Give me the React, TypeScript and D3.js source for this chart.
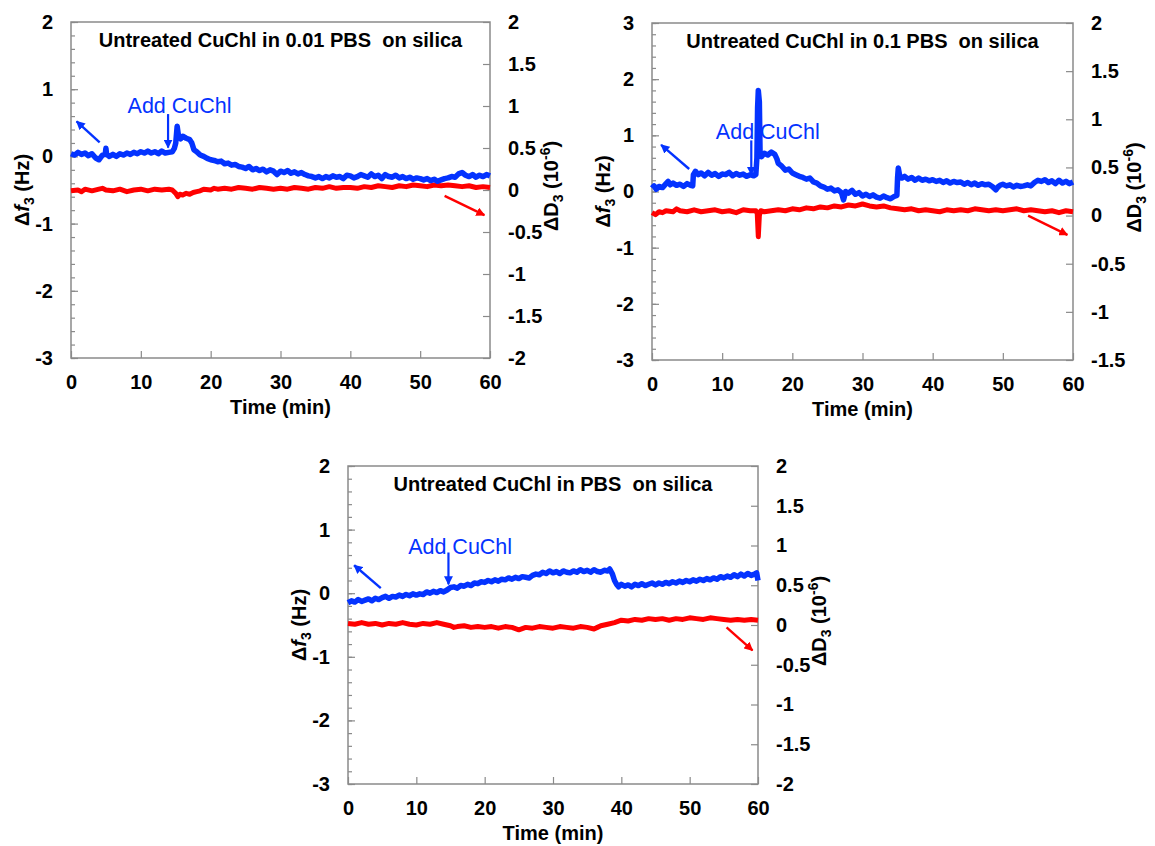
import React, { useEffect, useRef } from 'react';
import * as d3 from 'd3';

type Pt = [number, number];

// time axis (min)
const timeTicks = [0, 10, 20, 30, 40, 50, 60];

// ---- panel 1: untreated CuChl in 0.01 PBS ----
const freq001: Pt[] = [
  [0, 0.04], [0.5, 0.02], [1, 0.06], [1.5, 0.03], [2, 0.05], [2.5, 0.01], [3, 0.04], [3.5, -0.02], [4, -0.05], [4.5, 0.02],
  [4.9, 0.03], [5, 0.12], [5.1, 0.03], [5.5, 0.0], [6, 0.03], [6.5, 0.0], [7, 0.04], [7.5, 0.02], [8, 0.05], [8.5, 0.03], [9, 0.06],
  [9.5, 0.04], [10, 0.07], [10.5, 0.05], [11, 0.08], [11.5, 0.05], [12, 0.07], [12.5, 0.04], [13, 0.08], [13.5, 0.05], [14, 0.06],
  [14.5, 0.07], [14.8, 0.12], [15, 0.2], [15.2, 0.45], [15.4, 0.3], [15.7, 0.26], [16, 0.3], [16.5, 0.27], [17, 0.25], [17.3, 0.2],
  [17.6, 0.1], [18, 0.07], [18.5, 0.02], [19, 0.0], [19.5, -0.03], [20, -0.05], [20.5, -0.06], [21, -0.08], [21.5, -0.07], [22, -0.11],
  [22.5, -0.1], [23, -0.13], [23.5, -0.12], [24, -0.15], [24.5, -0.16], [25, -0.18], [25.5, -0.15], [26, -0.2], [26.5, -0.18], [27, -0.21],
  [27.5, -0.19], [28, -0.23], [28.5, -0.2], [29, -0.22], [29.5, -0.27], [30, -0.22], [30.5, -0.24], [31, -0.21], [31.5, -0.25], [32, -0.23],
  [32.5, -0.26], [33, -0.24], [33.5, -0.27], [34, -0.29], [34.5, -0.3], [35, -0.32], [35.5, -0.3], [36, -0.33], [36.5, -0.3], [37, -0.32],
  [37.5, -0.29], [38, -0.31], [38.5, -0.3], [39, -0.33], [39.5, -0.28], [40, -0.29], [40.5, -0.32], [41, -0.3], [41.5, -0.27], [42, -0.29],
  [42.5, -0.31], [43, -0.26], [43.5, -0.3], [44, -0.28], [44.5, -0.33], [45, -0.27], [45.5, -0.3], [46, -0.31], [46.5, -0.28], [47, -0.32],
  [47.5, -0.3], [48, -0.33], [48.5, -0.31], [49, -0.34], [49.5, -0.32], [50, -0.33], [50.5, -0.35], [51, -0.33], [51.5, -0.36], [52, -0.34],
  [52.5, -0.37], [53, -0.35], [53.5, -0.33], [54, -0.32], [54.5, -0.3], [55, -0.31], [55.5, -0.26], [56, -0.24], [56.5, -0.28], [57, -0.3],
  [57.5, -0.27], [58, -0.31], [58.5, -0.28], [59, -0.3], [59.5, -0.27], [60, -0.29],
];
const diss001: Pt[] = [
  [0, -0.01], [1, 0.0], [1.5, -0.02], [2, 0.01], [3, -0.01], [4, 0.01], [4.5, 0.02], [5, 0.0], [6, -0.01], [7, 0.01],
  [8, -0.02], [9, 0.0], [10, 0.01], [11, -0.01], [12, 0.01], [13, 0.0], [14, 0.01], [14.5, 0.0], [15, -0.04], [15.3, -0.08],
  [15.6, -0.05], [16, -0.06], [16.5, -0.04], [17, -0.05], [17.5, -0.03], [18, -0.02], [18.5, -0.01], [19, 0.01], [20, 0.0], [20.5, 0.02],
  [21, 0.01], [22, 0.02], [23, 0.01], [24, 0.03], [25, 0.02], [26, 0.01], [27, 0.03], [28, 0.02], [29, 0.01], [30, 0.02],
  [31, 0.01], [32, 0.03], [33, 0.02], [34, 0.01], [35, 0.03], [36, 0.02], [37, 0.04], [38, 0.02], [39, 0.03], [40, 0.03],
  [41, 0.02], [42, 0.04], [43, 0.03], [44, 0.05], [45, 0.04], [46, 0.03], [47, 0.05], [48, 0.04], [49, 0.06], [50, 0.05],
  [51, 0.04], [52, 0.06], [53, 0.05], [54, 0.06], [55, 0.05], [56, 0.04], [57, 0.05], [58, 0.03], [59, 0.04], [60, 0.03],
];

// ---- panel 2: untreated CuChl in 0.1 PBS ----
const freq01: Pt[] = [
  [0, 0.06], [0.3, 0.1], [0.6, 0.04], [1, 0.09], [1.5, 0.07], [2, 0.14], [2.3, 0.18], [2.6, 0.12], [3, 0.15], [3.5, 0.11],
  [4, 0.13], [4.5, 0.09], [5, 0.14], [5.5, 0.11], [5.8, 0.1], [5.9, 0.3], [6.2, 0.36], [6.6, 0.3], [7, 0.33], [7.5, 0.28],
  [8, 0.34], [8.5, 0.29], [9, 0.32], [9.5, 0.27], [10, 0.31], [10.5, 0.3], [11, 0.34], [11.5, 0.28], [12, 0.32], [12.5, 0.29],
  [13, 0.31], [13.5, 0.27], [14, 0.3], [14.5, 0.28], [14.8, 0.3], [14.95, 0.6], [15.05, 1.5], [15.15, 1.8], [15.3, 1.6], [15.4, 0.7],
  [15.6, 0.62], [16, 0.68], [16.5, 0.65], [17, 0.7], [17.5, 0.66], [17.8, 0.58], [18, 0.5], [18.5, 0.45], [19, 0.38], [19.5, 0.4],
  [20, 0.33], [20.5, 0.3], [21, 0.27], [21.5, 0.25], [22, 0.22], [22.5, 0.24], [23, 0.17], [23.5, 0.15], [24, 0.1], [24.5, 0.08],
  [25, 0.04], [25.5, 0.06], [26, 0.01], [26.5, 0.03], [27, -0.02], [27.3, -0.15], [27.6, 0.0], [28, -0.03], [28.5, 0.02], [29, -0.05],
  [29.5, -0.02], [30, -0.08], [30.5, -0.05], [31, -0.09], [31.5, -0.06], [32, -0.1], [32.5, -0.12], [33, -0.08], [33.5, -0.11], [34, -0.13],
  [34.5, -0.09], [34.9, -0.07], [35, 0.25], [35.1, 0.42], [35.3, 0.28], [35.6, 0.24], [36, 0.27], [36.5, 0.22], [37, 0.25], [37.5, 0.2],
  [38, 0.24], [38.5, 0.2], [39, 0.22], [39.5, 0.19], [40, 0.21], [40.5, 0.18], [41, 0.2], [41.5, 0.16], [42, 0.19], [42.5, 0.15],
  [43, 0.18], [43.5, 0.16], [44, 0.17], [44.5, 0.13], [45, 0.16], [45.5, 0.12], [46, 0.15], [46.5, 0.11], [47, 0.14], [47.5, 0.12],
  [48, 0.13], [48.5, 0.09], [49, 0.03], [49.3, 0.08], [49.6, 0.11], [50, 0.13], [50.5, 0.1], [51, 0.12], [51.5, 0.08], [52, 0.11],
  [52.5, 0.09], [53, 0.1], [53.5, 0.12], [54, 0.1], [54.5, 0.16], [55, 0.2], [55.5, 0.18], [56, 0.21], [56.5, 0.16], [57, 0.19],
  [57.5, 0.14], [58, 0.2], [58.5, 0.15], [59, 0.18], [59.5, 0.14], [60, 0.17],
];
const diss01: Pt[] = [
  [0, 0.03], [0.5, 0.01], [1, 0.04], [1.5, 0.03], [2, 0.05], [3, 0.04], [3.5, 0.07], [4, 0.05], [5, 0.04], [6, 0.06],
  [7, 0.04], [8, 0.05], [9, 0.06], [10, 0.04], [11, 0.05], [12, 0.03], [13, 0.06], [14, 0.05], [14.8, 0.05], [15.0, 0.02],
  [15.15, -0.22], [15.3, 0.0], [15.5, 0.05], [16, 0.04], [17, 0.05], [18, 0.06], [19, 0.05], [20, 0.07], [21, 0.06], [22, 0.08],
  [23, 0.07], [24, 0.09], [25, 0.08], [26, 0.1], [27, 0.09], [28, 0.11], [29, 0.1], [30, 0.12], [31, 0.1], [32, 0.09],
  [33, 0.1], [34, 0.08], [35, 0.07], [36, 0.06], [37, 0.07], [38, 0.05], [39, 0.06], [40, 0.05], [41, 0.04], [42, 0.06],
  [43, 0.05], [44, 0.06], [45, 0.05], [46, 0.07], [47, 0.06], [48, 0.05], [49, 0.06], [50, 0.05], [51, 0.06], [52, 0.07],
  [53, 0.05], [54, 0.06], [55, 0.05], [56, 0.04], [57, 0.05], [58, 0.03], [59, 0.05], [60, 0.04],
];

// ---- panel 3: untreated CuChl in PBS ----
const freqPbs: Pt[] = [
  [0, -0.15], [0.5, -0.12], [1, -0.14], [1.5, -0.1], [2, -0.13], [2.5, -0.11], [3, -0.09], [3.5, -0.12], [4, -0.08], [4.5, -0.1],
  [5, -0.07], [5.5, -0.05], [6, -0.08], [6.5, -0.05], [7, -0.06], [7.5, -0.03], [8, -0.05], [8.5, -0.02], [9, -0.04], [9.5, -0.01],
  [10, -0.03], [10.5, -0.01], [11, -0.02], [11.5, 0.02], [12, 0.0], [12.5, 0.03], [13, 0.01], [13.5, 0.04], [14, 0.02], [14.5, 0.05],
  [15, 0.09], [15.5, 0.1], [16, 0.08], [16.5, 0.12], [17, 0.11], [17.5, 0.14], [18, 0.12], [18.5, 0.16], [19, 0.15], [19.5, 0.18],
  [20, 0.17], [20.5, 0.2], [21, 0.18], [21.5, 0.21], [22, 0.19], [22.5, 0.22], [23, 0.21], [23.5, 0.24], [24, 0.22], [24.5, 0.25],
  [25, 0.23], [25.5, 0.26], [26, 0.25], [26.5, 0.24], [27, 0.28], [27.5, 0.3], [28, 0.29], [28.5, 0.33], [29, 0.31], [29.5, 0.35],
  [30, 0.32], [30.5, 0.34], [31, 0.31], [31.5, 0.35], [32, 0.33], [32.5, 0.32], [33, 0.35], [33.5, 0.33], [34, 0.37], [34.5, 0.34],
  [35, 0.36], [35.5, 0.33], [36, 0.37], [36.5, 0.34], [37, 0.33], [37.5, 0.36], [38, 0.35], [38.3, 0.38], [38.7, 0.3], [39, 0.2],
  [39.3, 0.14], [39.6, 0.1], [40, 0.14], [40.5, 0.11], [41, 0.13], [41.5, 0.1], [42, 0.14], [42.5, 0.12], [43, 0.15], [43.5, 0.12],
  [44, 0.14], [44.5, 0.16], [45, 0.13], [45.5, 0.16], [46, 0.14], [46.5, 0.17], [47, 0.15], [47.5, 0.18], [48, 0.16], [48.5, 0.19],
  [49, 0.17], [49.5, 0.2], [50, 0.18], [50.5, 0.21], [51, 0.19], [51.5, 0.22], [52, 0.2], [52.5, 0.23], [53, 0.21], [53.5, 0.24],
  [54, 0.22], [54.5, 0.26], [55, 0.24], [55.5, 0.27], [56, 0.25], [56.5, 0.29], [57, 0.26], [57.5, 0.3], [58, 0.27], [58.5, 0.31],
  [59, 0.28], [59.5, 0.3], [59.8, 0.32], [60, 0.2],
];
const dissPbs: Pt[] = [
  [0, 0.02], [1, 0.01], [2, 0.03], [3, 0.01], [4, 0.02], [5, 0.0], [6, 0.02], [7, 0.01], [8, 0.03], [9, 0.01],
  [10, 0.0], [11, 0.02], [12, 0.01], [13, 0.03], [14, 0.01], [15, -0.01], [15.5, -0.03], [16, -0.02], [17, -0.01], [18, -0.03],
  [19, -0.02], [20, -0.03], [21, -0.02], [22, -0.04], [23, -0.02], [24, -0.03], [25, -0.06], [26, -0.03], [27, -0.04], [28, -0.02],
  [29, -0.03], [30, -0.04], [31, -0.02], [32, -0.03], [33, -0.04], [34, -0.02], [35, -0.03], [36, -0.05], [36.5, -0.03], [37, -0.01],
  [38, 0.01], [39, 0.03], [40, 0.06], [41, 0.05], [42, 0.07], [43, 0.06], [44, 0.08], [45, 0.07], [46, 0.08], [47, 0.06],
  [48, 0.08], [49, 0.07], [50, 0.09], [51, 0.08], [52, 0.07], [53, 0.09], [54, 0.08], [55, 0.07], [56, 0.06], [57, 0.07],
  [58, 0.06], [59, 0.07], [60, 0.06],
];

// axis tick labels
const freqTicksA = [2, 1, 0, -1, -2, -3];
const freqTicksB = [3, 2, 1, 0, -1, -2, -3];
const dissTicksA = [2, 1.5, 1, 0.5, 0, -0.5, -1, -1.5, -2];
const dissTicksB = [2, 1.5, 1, 0.5, 0, -0.5, -1, -1.5];

const titles = [
  'Untreated CuChl in 0.01 PBS  on silica',
  'Untreated CuChl in 0.1 PBS  on silica',
  'Untreated CuChl in PBS  on silica',
];

// annotation anchors in data units: [t, Hz] for blue, [t, 10^-6] for red
const addLabelAt: Pt[] = [[8.1, 0.64], [9.1, 0.93], [8.8, 0.62]];
const addArrow: [Pt, Pt][] = [[[13.9, 0.63], [13.9, 0.13]], [[14.15, 0.91], [14.15, 0.3]], [[14.7, 0.64], [14.7, 0.14]]];
const blueArrow: [Pt, Pt][] = [[[4.1, 0.21], [0.8, 0.52]], [[5.3, 0.4], [1.3, 0.83]], [[4.8, 0.08], [0.9, 0.44]]];
const redArrow: [Pt, Pt][] = [[[53.5, -0.07], [59.2, -0.3]], [[53.6, 0.0], [59.2, -0.2]], [[55.4, -0.03], [59.2, -0.32]]];

const BLUE = '#0433ff';
const RED = '#ff0000';
const AXIS = '#8a8a8a';
const FONT = "Arial, 'Liberation Sans', sans-serif";

const App = () => {
  const ref = useRef<SVGSVGElement>(null);

  const graph = () => {
    const svg = d3.select(ref.current);
    svg.selectAll('*').remove();

    const defs = svg.append('defs');
    [['headBlue', BLUE], ['headRed', RED]].forEach(([id, c]) => {
      defs.append('marker')
        .attr('id', id)
        .attr('viewBox', '0 0 10 10')
        .attr('refX', 9).attr('refY', 5)
        .attr('markerWidth', 9).attr('markerHeight', 9)
        .attr('markerUnits', 'userSpaceOnUse')
        .attr('orient', 'auto')
        .append('path')
        .attr('d', 'M0,0L10,5L0,10z')
        .attr('fill', c);
    });

    const panels = [
      { left: 71, right: 490, top: 22, bottom: 358, fT: freqTicksA, dT: dissTicksA, freq: freq001, diss: diss001 },
      { left: 652, right: 1073, top: 23, bottom: 360, fT: freqTicksB, dT: dissTicksB, freq: freq01, diss: diss01 },
      { left: 348, right: 758, top: 466, bottom: 784, fT: freqTicksA, dT: dissTicksA, freq: freqPbs, diss: dissPbs },
    ];

    panels.forEach((p, i) => {
      const x = d3.scaleLinear().domain([0, 60]).range([p.left, p.right]);
      const yL = d3.scaleLinear().domain([d3.min(p.fT)!, d3.max(p.fT)!]).range([p.bottom, p.top]);
      const yR = d3.scaleLinear().domain([d3.min(p.dT)!, d3.max(p.dT)!]).range([p.bottom, p.top]);
      const g = svg.append('g').style('font-family', FONT);

      // minor ticks on the frequency axis, every 0.2 Hz
      const minor = d3.range(yL.domain()[0] * 5, yL.domain()[1] * 5 + 1).map((v) => v / 5);
      g.append('g')
        .attr('transform', `translate(${p.left},0)`)
        .call(d3.axisLeft(yL).tickValues(minor).tickSize(-4).tickSizeOuter(0).tickFormat(() => ''));

      g.append('g')
        .attr('transform', `translate(${p.left},0)`)
        .call(d3.axisLeft(yL).tickValues(p.fT).tickSize(-7).tickSizeOuter(0).tickPadding(18).tickFormat((d) => String(d)));

      g.append('g')
        .attr('transform', `translate(${p.right},0)`)
        .call(d3.axisRight(yR).tickValues(p.dT).tickSize(-7).tickSizeOuter(0).tickPadding(18).tickFormat((d) => String(d)));

      g.append('g')
        .attr('transform', `translate(0,${p.bottom})`)
        .call(d3.axisBottom(x).tickValues(timeTicks).tickSize(-7).tickSizeOuter(0).tickPadding(17).tickFormat((d) => String(d)));

      g.selectAll('.domain').remove();
      g.selectAll('.tick line').attr('stroke', AXIS).attr('stroke-width', 1.2);
      g.selectAll('.tick text')
        .attr('fill', '#000')
        .style('font-size', '20px')
        .style('font-weight', 'bold')
        .style('font-family', FONT);

      g.append('rect')
        .attr('x', p.left).attr('y', p.top)
        .attr('width', p.right - p.left).attr('height', p.bottom - p.top)
        .attr('fill', 'none').attr('stroke', AXIS).attr('stroke-width', 1.5);

      // traces
      const lineR = d3.line<Pt>().x((d) => x(d[0])).y((d) => yR(d[1]));
      const lineL = d3.line<Pt>().x((d) => x(d[0])).y((d) => yL(d[1]));
      g.append('path').attr('d', lineR(p.diss)).attr('fill', 'none').attr('stroke', RED)
        .attr('stroke-width', 5).attr('stroke-linejoin', 'round');
      g.append('path').attr('d', lineL(p.freq)).attr('fill', 'none').attr('stroke', BLUE)
        .attr('stroke-width', 5.5).attr('stroke-linejoin', 'round');

      // title
      g.append('text')
        .attr('x', (p.left + p.right) / 2).attr('y', p.top + 25)
        .attr('text-anchor', 'middle')
        .style('font-size', '20px').style('font-weight', 'bold')
        .style('white-space', 'pre')
        .text(titles[i]);

      // x label
      g.append('text')
        .attr('x', (p.left + p.right) / 2).attr('y', p.bottom + 56)
        .attr('text-anchor', 'middle')
        .style('font-size', '20px').style('font-weight', 'bold')
        .text('Time (min)');

      // left label: Δf3 (Hz)
      const ll = g.append('text')
        .attr('transform', `translate(${p.left - 42},${(p.top + p.bottom) / 2}) rotate(-90)`)
        .attr('text-anchor', 'middle')
        .style('font-size', '20px').style('font-weight', 'bold');
      ll.append('tspan').text('Δ');
      ll.append('tspan').style('font-style', 'italic').text('f');
      ll.append('tspan').attr('dy', 5).style('font-size', '14px').text('3');
      ll.append('tspan').attr('dy', -5).text(' (Hz)');

      // right label: ΔD3 (10^-6)
      const rl = g.append('text')
        .attr('transform', `translate(${p.right + 68},${(p.top + p.bottom) / 2 - 4}) rotate(-90)`)
        .attr('text-anchor', 'middle')
        .style('font-size', '20px').style('font-weight', 'bold');
      rl.append('tspan').text('ΔD');
      rl.append('tspan').attr('dy', 5).style('font-size', '14px').text('3');
      rl.append('tspan').attr('dy', -5).text(' (10');
      rl.append('tspan').attr('dy', -8).style('font-size', '14px').text('-6');
      rl.append('tspan').attr('dy', 8).text(')');

      // "Add CuChl" annotation
      g.append('text')
        .attr('x', x(addLabelAt[i][0])).attr('y', yL(addLabelAt[i][1]))
        .attr('fill', BLUE)
        .style('font-size', '21.5px')
        .text('Add CuChl');
      const [a0, a1] = addArrow[i];
      g.append('line')
        .attr('x1', x(a0[0])).attr('y1', yL(a0[1]))
        .attr('x2', x(a1[0])).attr('y2', yL(a1[1]))
        .attr('stroke', BLUE).attr('stroke-width', 2.2)
        .attr('marker-end', 'url(#headBlue)');

      // axis pointers
      const [b0, b1] = blueArrow[i];
      g.append('line')
        .attr('x1', x(b0[0])).attr('y1', yL(b0[1]))
        .attr('x2', x(b1[0])).attr('y2', yL(b1[1]))
        .attr('stroke', BLUE).attr('stroke-width', 2.4)
        .attr('marker-end', 'url(#headBlue)');
      const [r0, r1] = redArrow[i];
      g.append('line')
        .attr('x1', x(r0[0])).attr('y1', yR(r0[1]))
        .attr('x2', x(r1[0])).attr('y2', yR(r1[1]))
        .attr('stroke', RED).attr('stroke-width', 2.4)
        .attr('marker-end', 'url(#headRed)');
    });
  };

  useEffect(() => graph());

  return (
    <svg ref={ref} width="1155" height="846" style={{ position: 'absolute', left: 0, top: 0, background: '#fff' }}></svg>
  );
};

export default App;
